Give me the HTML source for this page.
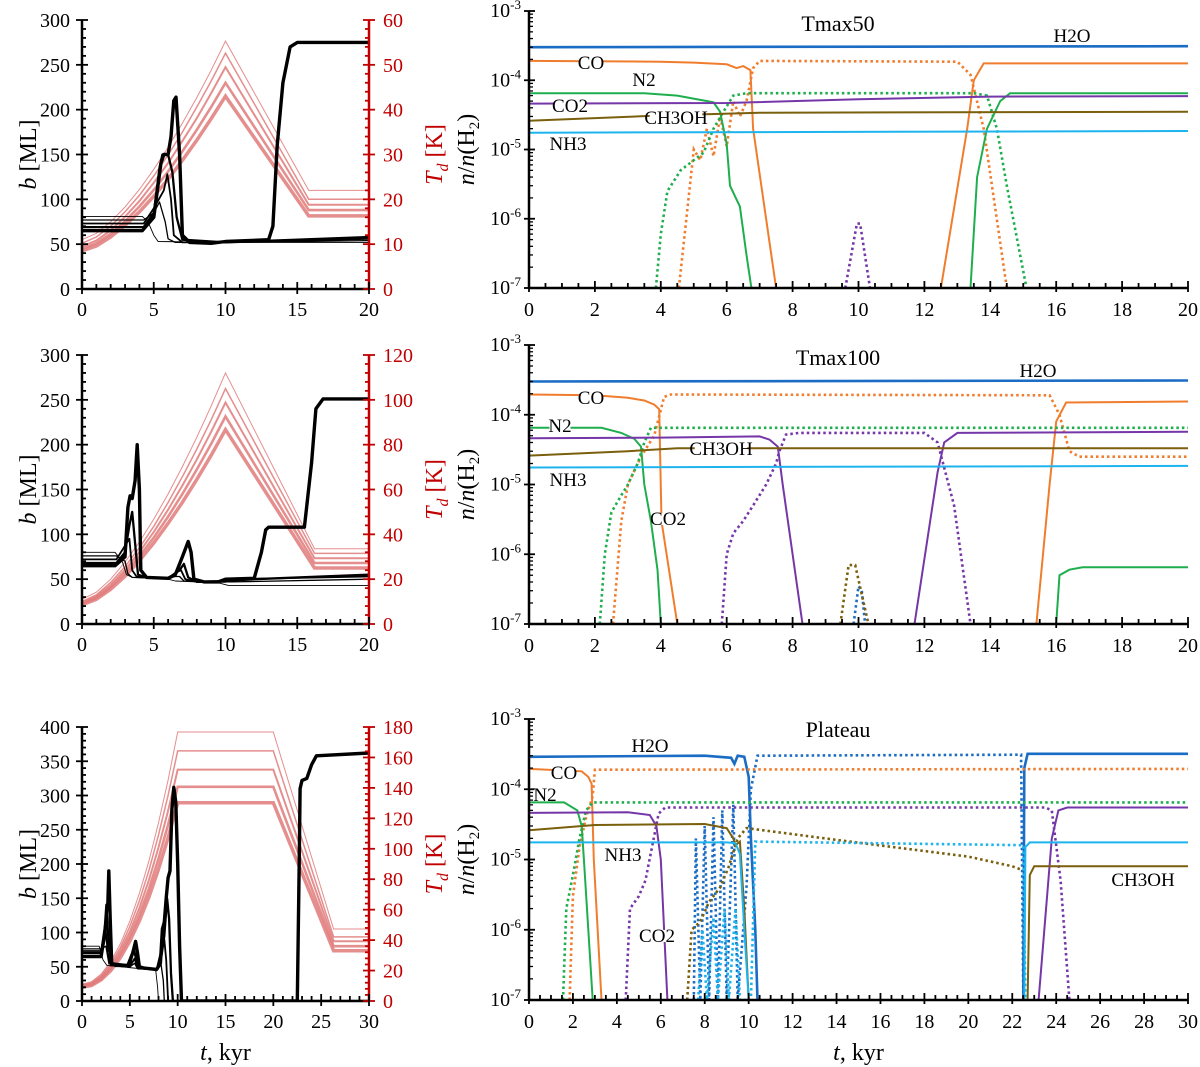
<!DOCTYPE html>
<html><head><meta charset="utf-8"><style>
body{margin:0;background:#fff}
svg{display:block;font-family:"Liberation Serif",serif}
</style></head><body>
<svg id="fig" width="1200" height="1067" viewBox="0 0 1200 1067" xmlns="http://www.w3.org/2000/svg"></svg>
<script>
// ---------- DATA ----------
const tRise20 = [0,1,2,3,4,5,6,7,8,9,10,15.8,20];
const tRise20b = [0,1,2,3,4,5,6,7,8,9,10,16.2,20];
const tRise30 = [0,1,2,3,4,5,6,7,8,9,10,20,26.3,30];
const tdTop = [
 [8.5,9.6,11.6,14.2,17.2,20.7,24.5,28.7,33.2,38,43,16.3,16.3],
 [9,10.2,12.3,15.1,18.4,22.1,26.2,30.7,35.5,40.6,46,17.6,17.6],
 [9.5,10.8,13.1,16.1,19.6,23.7,28.1,33,38.1,43.7,49.5,18.8,18.8],
 [10.2,11.6,14,17.2,20.9,25.2,29.9,35,40.6,46.4,52.6,20,20],
 [11,12.4,15,18.3,22.2,26.7,31.6,37,42.7,48.8,55.3,22,22]];
const tdMid = [
 [8.5,11,15.5,21.3,28.3,36.2,44.9,54.3,64.5,75.3,86.7,25,25],
 [9,11.7,16.4,22.7,30.2,38.6,47.9,58,68.9,80.4,92.6,27.2,27.2],
 [9.5,12.4,17.4,24.1,32.1,41.1,51,61.8,73.4,85.8,98.8,29.3,29.3],
 [10,13,18.5,25.6,34,43.6,54.2,65.7,78,91.1,105,31.5,31.5],
 [11,14.2,20,27.6,36.6,46.8,58,70.2,83.3,97.3,112,33.6,33.6]];
const tdBot = [
 [9,10.2,13.9,19.9,28.4,39.3,52.7,68.4,86.6,107.3,130.3,130.3,33,33],
 [9.5,10.8,14.7,21.3,30.5,42.3,56.7,73.8,93.5,115.8,140.7,140.7,36,36],
 [10,11.4,15.7,22.8,32.7,45.5,61.1,79.6,100.9,125,152,152,39.3,39.3],
 [10.5,12,16.7,24.3,35.1,49,65.9,85.9,109,135.1,164.3,164.3,42.1,42.1],
 [11,12.7,17.6,25.9,37.5,52.4,70.7,92.2,117,145.2,176.7,176.7,47.3,47.3]];
const bTop = [
 [[0,81],[4.2,81],[4.6,75],[5.0,60],[5.3,53],[10,52],[20,52]],
 [[0,77],[4.3,77],[5,85],[5.4,97],[5.8,75],[6,56],[6.5,52],[10,52],[20,54]],
 [[0,73],[4.3,73],[5,90],[5.7,110],[5.95,128],[6.2,100],[6.4,60],[7,52],[10,52],[20,56]],
 [[0,69],[4.3,69],[5,85],[5.4,135],[5.6,150],[6,150],[6.3,130],[6.6,80],[7,55],[10,52],[20,58]],
 [[0,65],[4.2,65],[5,80],[5.5,140],[5.7,150],[6,150],[6.2,170],[6.4,210],[6.55,214],[6.8,150],[7,60],[7.5,52],[9,51],[10,53],[13,55],[13.3,70],[13.6,160],[14,230],[14.5,270],[15,275],[20,275]]];
const bMid = [
 [[0,80],[2.3,80],[2.8,70],[3.1,55],[3.5,52],[6,50],[6.5,48],[9.5,46],[10.2,43],[20,43]],
 [[0,76],[2.4,76],[3,70],[3.2,56],[3.5,52],[6,51],[6.5,53],[6.8,53],[7.1,48],[10,47],[10.5,47],[20,50]],
 [[0,72],[2.4,72],[3.1,90],[3.3,95],[3.5,60],[3.8,53],[6,51],[6.6,58],[6.9,60],[7.2,50],[8,47],[10,47],[10.5,50],[20,53]],
 [[0,68],[2.4,68],[3,80],[3.3,110],[3.5,125],[3.7,90],[3.9,55],[4.5,52],[6,51],[6.8,60],[7.1,67],[7.4,52],[8,47],[10,48],[12,50],[20,55]],
 [[0,65],[2.3,65],[3,75],[3.2,130],[3.35,143],[3.5,140],[3.7,160],[3.85,200],[4.0,150],[4.1,60],[4.5,52],[6,51],[6.5,55],[7,75],[7.4,92],[7.6,80],[7.8,50],[8.5,47],[9.5,47],[10,50],[12,51],[12.5,80],[12.8,105],[13,108],[15.5,108],[16,180],[16.3,240],[16.8,251],[20,251]]];
const bBot = [
 [[0,80],[1.8,80],[2.2,60],[2.6,52],[7.7,45],[7.9,20],[8.0,0],[30,0]],
 [[0,76],[2,76],[2.5,80],[2.8,55],[5,50],[5.5,55],[5.8,47],[7.8,46],[8.2,60],[8.5,30],[8.6,0],[30,0]],
 [[0,73],[2,73],[2.5,100],[2.7,70],[3,52],[5,50],[5.5,62],[5.8,48],[7.8,46],[8.3,75],[8.6,90],[8.8,60],[9,0],[30,0]],
 [[0,70],[2,70],[2.4,110],[2.6,125],[2.8,80],[3.1,55],[5,52],[5.4,75],[5.7,60],[6,48],[7.8,46],[8.3,65],[8.6,95],[8.9,150],[9.1,120],[9.3,40],[9.5,0],[30,0]],
 [[0,65],[2,65],[2.4,100],[2.6,140],[2.7,140],[2.8,190],[2.95,120],[3.1,55],[3.5,52],[4.8,52],[5.3,70],[5.6,87],[5.8,70],[6,50],[6.5,48],[7.8,46],[8.2,55],[8.4,105],[8.6,115],[8.8,150],[9,180],[9.2,190],[9.4,280],[9.6,312],[9.8,290],[10,200],[10.2,80],[10.4,0],[22.5,0],[22.7,200],[22.8,310],[23,322],[23.5,325],[24,345],[24.5,358],[30,362]]];

const C = {H2O:'#1a6cc4',CO:'#f07d2e',N2:'#1fae4e',CO2:'#7536a8',CH3OH:'#7a5f0c',NH3:'#1db4ee'};
const specTop = [
 ['H2O','s',[[0,3e-4],[20,3.1e-4]]],
 ['CO','s',[[0,1.9e-4],[4,1.85e-4],[5,1.8e-4],[6,1.7e-4],[6.3,1.5e-4],[6.5,1.6e-4],[6.72,1.4e-4],[6.8,2e-5],[7.5,1e-7]]],
 ['CO','s',[[12.5,1e-7],[13.3,2e-5],[13.5,1e-4],[13.8,1.75e-4],[20,1.75e-4]]],
 ['CO','d',[[4.55,1e-7],[5,1e-5],[5.2,7e-6],[5.4,2e-5],[5.6,8e-6],[5.8,3e-5],[6.0,1.1e-5],[6.2,5e-5],[6.4,3e-5],[6.6,5e-5],[6.8,1.5e-4],[7,1.9e-4],[13,1.85e-4],[13.4,1.2e-4],[13.8,2e-5],[14.5,1e-7]]],
 ['N2','s',[[0,6.5e-5],[3.5,6.5e-5],[4.5,6e-5],[5.2,5.2e-5],[5.6,4.8e-5],[5.8,3.5e-5],[6,1.2e-5],[6.1,3e-6],[6.4,1.5e-6],[6.6,3e-7],[6.75,1e-7]]],
 ['N2','s',[[13.4,1e-7],[13.6,4e-6],[13.9,2e-5],[14.3,5e-5],[14.6,6.5e-5],[20,6.5e-5]]],
 ['N2','d',[[3.85,1e-7],[4.0,6e-7],[4.2,2.5e-6],[4.6,5e-6],[5,7e-6],[5.3,9e-6],[5.6,2e-5],[5.9,3.5e-5],[6.2,6e-5],[6.6,6.5e-5],[13.5,6.5e-5],[13.9,6e-5],[14.2,2e-5],[14.5,3e-6],[15.1,1e-7]]],
 ['CO2','s',[[0,4.6e-5],[6,4.7e-5],[10,5.3e-5],[14,5.8e-5],[20,5.9e-5]]],
 ['CO2','d',[[9.6,1e-7],[9.95,8.5e-7],[10.05,8.5e-7],[10.35,1e-7]]],
 ['CH3OH','s',[[0,2.6e-5],[4,3.1e-5],[7,3.4e-5],[20,3.5e-5]]],
 ['NH3','s',[[0,1.75e-5],[20,1.85e-5]]]];
const specMid = [
 ['H2O','s',[[0,3e-4],[20,3.1e-4]]],
 ['H2O','d',[[9.85,1e-7],[10.0,3.5e-7],[10.1,3e-7],[10.2,1e-7]]],
 ['CO','s',[[0,1.95e-4],[2,1.9e-4],[3,1.75e-4],[3.5,1.6e-4],[3.8,1.4e-4],[3.95,1.2e-4],[4.02,3e-6],[4.5,1e-7]]],
 ['CO','s',[[15.4,1e-7],[15.8,1e-5],[16.0,8e-5],[16.3,1.5e-4],[20,1.55e-4]]],
 ['CO','d',[[2.55,1e-7],[2.8,3e-6],[3.0,1e-5],[3.3,2e-5],[3.5,3e-5],[3.8,5e-5],[4.1,1.8e-4],[4.3,1.95e-4],[15.8,1.9e-4],[16.1,1e-4],[16.4,3e-5],[16.7,2.5e-5],[20,2.5e-5]]],
 ['N2','s',[[0,6.5e-5],[2.2,6.5e-5],[2.8,5.5e-5],[3.2,4.5e-5],[3.4,3.5e-5],[3.5,1e-5],[3.7,3e-6],[3.9,6e-7],[4.0,1e-7]]],
 ['N2','s',[[16.0,1e-7],[16.1,5e-7],[16.4,6e-7],[16.8,6.5e-7],[20,6.5e-7]]],
 ['N2','d',[[2.15,1e-7],[2.3,1e-6],[2.5,4e-6],[2.8,7e-6],[3.0,1e-5],[3.3,2e-5],[3.5,4e-5],[3.7,6.5e-5],[20,6.5e-5]]],
 ['CO2','s',[[0,4.6e-5],[4,4.7e-5],[7,4.9e-5],[7.3,4.4e-5],[7.55,3.5e-5],[7.7,1e-5],[8.3,1e-7]]],
 ['CO2','s',[[11.7,1e-7],[12.4,1.5e-5],[12.6,4e-5],[13,5.5e-5],[20,5.7e-5]]],
 ['CO2','d',[[5.85,1e-7],[6.0,1e-6],[6.2,2e-6],[6.5,3e-6],[6.8,5e-6],[7.2,1e-5],[7.5,2e-5],[7.6,3e-5],[7.8,5.2e-5],[8.2,5.5e-5],[12.0,5.5e-5],[12.4,4e-5],[12.9,5e-6],[13.4,1e-7]]],
 ['CH3OH','s',[[0,2.6e-5],[3,3e-5],[4.5,3.3e-5],[20,3.3e-5]]],
 ['CH3OH','d',[[9.45,1e-7],[9.7,7e-7],[9.9,7e-7],[10.3,1e-7]]],
 ['NH3','s',[[0,1.75e-5],[20,1.85e-5]]]];
const specBot = [
 ['H2O','s',[[0,2.9e-4],[8,3e-4],[9.2,2.8e-4],[9.35,2.3e-4],[9.5,3e-4],[9.8,2.9e-4],[10.0,1.5e-4],[10.1,2e-5],[10.3,1e-6],[10.4,1e-7]]],
 ['H2O','s',[[22.5,1e-7],[22.55,2e-4],[22.7,3.2e-4],[30,3.2e-4]]],
 ['H2O','d',[[7.5,1e-7],[7.6,2e-5],[7.8,1e-7],[8.0,3e-5],[8.2,1e-7],[8.4,4e-5],[8.6,1e-7],[8.8,5e-5],[9.0,1e-7],[9.3,6e-5],[9.5,1e-7],[9.9,4e-6],[10.1,1e-4],[10.4,3e-4],[22.4,3.1e-4],[22.5,1e-7]]],
 ['CO','s',[[0,1.95e-4],[2.4,1.8e-4],[2.7,1.5e-4],[2.85,1.2e-4],[2.95,1e-5],[3.3,1e-7]]],
 ['CO','d',[[1.85,1e-7],[2.0,3e-6],[2.3,1.5e-5],[2.6,4e-5],[2.9,8e-5],[3.0,1.9e-4],[30,1.95e-4]]],
 ['N2','s',[[0,6.5e-5],[1.6,6.5e-5],[2.2,5e-5],[2.4,3e-5],[2.5,1e-5],[2.9,1e-7]]],
 ['N2','d',[[1.55,1e-7],[1.7,2e-6],[2.0,6e-6],[2.3,2e-5],[2.6,5e-5],[2.9,6.5e-5],[30,6.5e-5]]],
 ['CO2','s',[[0,4.6e-5],[4.5,4.7e-5],[5.5,4.3e-5],[5.8,3e-5],[6.0,1e-5],[6.3,1e-7]]],
 ['CO2','s',[[23.2,1e-7],[23.8,2e-5],[24.1,5e-5],[24.5,5.5e-5],[30,5.5e-5]]],
 ['CO2','d',[[4.4,1e-7],[4.6,2e-6],[5.0,3e-6],[5.3,5e-6],[5.6,1.5e-5],[5.9,4.5e-5],[6.2,5.5e-5],[23.5,5.5e-5],[23.8,5e-5],[24.2,5e-6],[24.6,1e-7]]],
 ['CH3OH','s',[[0,2.6e-5],[3,3.1e-5],[8,3.2e-5],[9,2.8e-5],[9.3,2e-5],[9.4,1.6e-5],[9.6,1.8e-5],[9.8,2e-6],[10.0,1e-7]]],
 ['CH3OH','s',[[22.7,1e-7],[22.8,6e-6],[23,8e-6],[30,8e-6]]],
 ['CH3OH','d',[[7.2,1e-7],[7.4,1e-6],[7.8,1.3e-6],[8.2,2.5e-6],[8.7,4e-6],[9.1,8e-6],[9.5,2e-5],[9.9,2.8e-5],[14,1.9e-5],[20,1.1e-5],[22,8e-6],[22.5,7e-6]]],
 ['NH3','s',[[0,1.75e-5],[9,1.75e-5],[9.4,1.7e-5],[9.6,1.2e-5],[9.8,1e-6],[10.0,1e-7]]],
 ['NH3','s',[[22.55,1e-7],[22.6,1.5e-5],[22.8,1.75e-5],[30,1.75e-5]]],
 ['NH3','d',[[7.7,1e-7],[7.9,1e-6],[8.1,1e-7],[8.4,1.5e-6],[8.6,1e-7],[8.9,2e-6],[9.1,1e-7],[9.4,2e-6],[9.6,1e-7],[10.1,1e-7],[10.3,1.8e-5],[22.5,1.6e-5],[22.6,1e-7]]]];

// ---------- DRAWING ----------
const NS='http://www.w3.org/2000/svg';
const svg=document.getElementById('fig');
function el(tag,attrs,parent){const e=document.createElementNS(NS,tag);for(const k in attrs)e.setAttribute(k,attrs[k]);(parent||svg).appendChild(e);return e;}
function txt(s,x,y,size,fill,anchor,parent){const t=el('text',{x:x,y:y,'font-size':size,fill:fill||'#000','text-anchor':anchor||'middle'},parent);t.textContent=s;return t;}
let clipN=0;
function clip(x0,y0,x1,y1){const id='c'+(clipN++);const cp=el('clipPath',{id:id});el('rect',{x:x0,y:y0,width:x1-x0,height:y1-y0},cp);return 'url(#'+id+')';}

function leftPanel(name,X0,X1,Y0,Y1,tmax,bmax,bstep,bminor,tdmax,tdstep,tdminor,tArr,tdCurves,bCurves,showTitle){
  const g=el('g',{});
  
  
  const sx=t=>X0+(X1-X0)*t/tmax, sb=b=>Y1-(Y1-Y0)*b/bmax, st=T=>Y1-(Y1-Y0)*T/tdmax;
  const cp=clip(X0,Y0-5,X1,Y1);
  const redW=[3.5,2.6,2,1.5,1];
  tdCurves.forEach((c,i)=>{
    const d=c.map((v,j)=>(j?'L':'M')+sx(tArr[j]).toFixed(1)+','+st(v).toFixed(1)).join('');
    const p=el('path',{d:d,fill:'none',stroke:'#e07a7a','stroke-opacity':0.85,'stroke-width':redW[i],'clip-path':cp},g);
    
    
  });
  const bw=[0.9,1.3,1.8,2.3,3.4];
  bCurves.forEach((c,i)=>{
    const d=c.map((p,j)=>(j?'L':'M')+sx(p[0]).toFixed(1)+','+sb(p[1]).toFixed(1)).join('');
    const p=el('path',{d:d,fill:'none',stroke:'#000','stroke-width':bw[i],'stroke-linejoin':'round','clip-path':cp},g);
    
    
  });
  el('line',{x1:X0,y1:Y0,x2:X0,y2:Y1,stroke:'#000','stroke-width':2.5},g);
  el('line',{x1:X0,y1:Y1,x2:X1,y2:Y1,stroke:'#000','stroke-width':2.5},g);
  el('line',{x1:X1,y1:Y0,x2:X1,y2:Y1,stroke:'#c00000','stroke-width':2.5},g);
  for(let b=0;b<=bmax+1e-9;b+=bminor){const y=sb(b);const maj=Math.abs(b/bstep-Math.round(b/bstep))<1e-6;
    el('line',{x1:X0-(maj?6:0),y1:y,x2:X0+(maj?6:4),y2:y,stroke:'#000','stroke-width':1.8},g);
    if(maj)txt(String(Math.round(b)),X0-12,y+7,20,'#000','end',g);}
  for(let T=0;T<=tdmax+1e-9;T+=tdminor){const y=st(T);const maj=Math.abs(T/tdstep-Math.round(T/tdstep))<1e-6;
    el('line',{x1:X1-(maj?6:4),y1:y,x2:X1+(maj?6:0),y2:y,stroke:'#c00000','stroke-width':1.8},g);
    if(maj)txt(String(Math.round(T)),X1+14,y+7,20,'#c00000','start',g);}
  for(let t=0;t<=tmax;t+=1){const x=sx(t);const maj=t%5===0;
    el('line',{x1:x,y1:Y1+(maj?5:0),x2:x,y2:Y1-(maj?7:5),stroke:'#000','stroke-width':1.8},g);
    if(maj)txt(String(t),x,Y1+27,20,'#000','middle',g);}
  const yt=el('text',{transform:`translate(36,${(Y0+Y1)/2}) rotate(-90)`,'font-size':24,'text-anchor':'middle'},g);
  yt.innerHTML='<tspan font-style="italic">b</tspan> [ML]';
  
  
  const rt=el('text',{transform:`translate(442,${(Y0+Y1)/2}) rotate(-90)`,'font-size':24,'text-anchor':'middle',fill:'#c00000'},g);
  rt.innerHTML='<tspan font-style="italic">T<tspan font-size="16" dy="6">d</tspan></tspan><tspan dy="-6"> [K]</tspan>';
  
  
  if(showTitle){const xt=el('text',{x:(X0+X1)/2,y:1060,'font-size':24,'text-anchor':'middle'},g);xt.innerHTML='<tspan font-style="italic">t</tspan>, kyr';
    
    }
}

function rightPanel(name,X0,X1,Y0,Y1,tmax,specs,title,titleDy,labels,showTitle){
  const g=el('g',{});
  
  
  const sx=t=>X0+(X1-X0)*t/tmax, sy=v=>Y1-(Y1-Y0)*(Math.log10(v)+7)/4;
  const cp=clip(X0,Y0,X1+3,Y1);
  specs.forEach((s,i)=>{
    const d=s[2].map((p,j)=>(j?'L':'M')+sx(p[0]).toFixed(1)+','+sy(p[1]).toFixed(1)).join('');
    const a={d:d,fill:'none',stroke:C[s[0]],'stroke-width':s[1]==='s'?(s[0]==='H2O'?2.6:2):2.6,'clip-path':cp};
    if(s[1]==='d'){a['stroke-dasharray']='2.5 3';}
    const p=el('path',a,g);
    
    
  });
  el('line',{x1:X0,y1:Y0,x2:X0,y2:Y1,stroke:'#000','stroke-width':2.5},g);
  el('line',{x1:X0,y1:Y1,x2:X1,y2:Y1,stroke:'#000','stroke-width':2.5},g);
  for(let e=-7;e<=-3;e++){const y=sy(Math.pow(10,e));
    el('line',{x1:X0-5,y1:y,x2:X0+6,y2:y,stroke:'#000','stroke-width':1.8},g);
    const t=el('text',{x:X0-8,y:y+6,'font-size':20,'text-anchor':'end'},g);
    t.innerHTML='10<tspan font-size="13" dy="-8">'+e+'</tspan>';
    if(e<-3)for(let m=2;m<=9;m++){const ym=sy(m*Math.pow(10,e));el('line',{x1:X0,y1:ym,x2:X0+4,y2:ym,stroke:'#000','stroke-width':1.3},g);}}
  for(let k=0;k<=tmax*2;k++){const t=k/2,x=sx(t);const maj=k%4===0;
    el('line',{x1:x,y1:Y1+(maj?4:0),x2:x,y2:Y1-(maj?7:5),stroke:'#000','stroke-width':1.8},g);
    if(maj)txt(String(t),x,Y1+28,20,'#000','middle',g);}
  const tt=txt(title,838,Y0+titleDy,22,'#000','middle',g);
  
  
  labels.forEach(l=>{
    if(l[0]!=='H2O'){const w=l[0].length*10.5;
      el('rect',{x:l[1]-w/2,y:l[2]-12,width:w,height:12,fill:'#fff'},g);}
    const t=txt(l[0],l[1],l[2],19,'#000','middle',g);
    
    
  });
  const yt=el('text',{transform:`translate(474,${(Y0+Y1)/2}) rotate(-90)`,'font-size':24,'text-anchor':'middle'},g);
  yt.innerHTML='<tspan font-style="italic">n</tspan>/<tspan font-style="italic">n</tspan>(H<tspan font-size="15" dy="5">2</tspan><tspan dy="-5">)</tspan>';
  
  
  if(showTitle){const xt=el('text',{x:(X0+X1)/2,y:1060,'font-size':24,'text-anchor':'middle'},g);xt.innerHTML='<tspan font-style="italic">t</tspan>, kyr';
    
    }
}

leftPanel('b-td-panel-tmax50',82,369,20,289,20,300,50,10,60,10,2,tRise20,tdTop,bTop,false);
leftPanel('b-td-panel-tmax100',82,369,355,624,20,300,50,10,120,20,4,tRise20b,tdMid,bMid,false);
leftPanel('b-td-panel-plateau',82,369,727,1001,30,400,50,10,180,20,4,tRise30,tdBot,bBot,true);

rightPanel('abundance-panel-tmax50',529,1188,11,288,20,specTop,'Tmax50',20,
 [['H2O',1072,42],['CO',591,69],['N2',644,86],['CO2',570,112],['CH3OH',676,124],['NH3',568,150]],false);
rightPanel('abundance-panel-tmax100',529,1188,345,624,20,specMid,'Tmax100',20,
 [['H2O',1038,377],['CO',591,404],['N2',560,432],['CH3OH',721,455],['NH3',568,486],['CO2',668,525]],false);
rightPanel('abundance-panel-plateau',529,1188,719,1000,30,specBot,'Plateau',18,
 [['H2O',650,752],['CO',564,779],['N2',545,801],['NH3',623,861],['CO2',657,942],['CH3OH',1143,886]],true);
</script>
</body></html>
